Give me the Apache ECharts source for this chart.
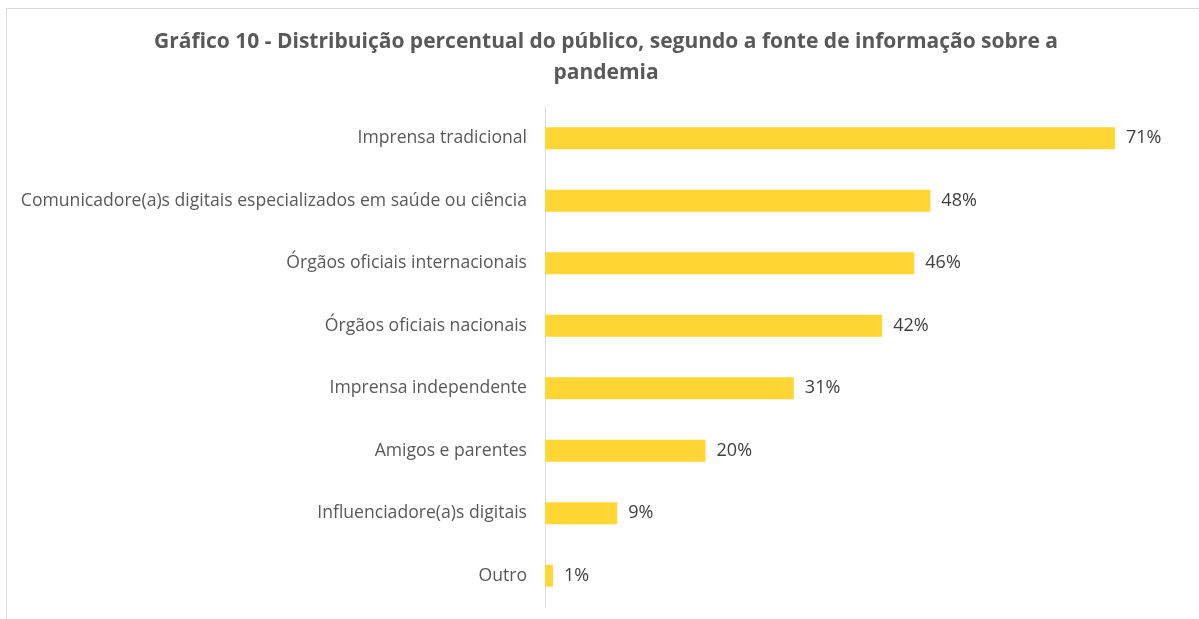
<!DOCTYPE html>
<html>
<head>
<meta charset="utf-8">
<script src="https://cdn.jsdelivr.net/npm/echarts@6/dist/echarts.min.js"></script>
<style>
	html, body { margin: 0; padding: 0; background: #fff; }
	#chart { width: 1199px; height: 619px; }
</style>
</head>
<body>
<div id="chart"></div>
<script>
	"use strict";

	var categories = [
		'Imprensa tradicional',
		'Comunicadore(a)s digitais especializados em saúde ou ciência',
		'Órgãos oficiais internacionais',
		'Órgãos oficiais nacionais',
		'Imprensa independente',
		'Amigos e parentes',
		'Influenciadore(a)s digitais',
		'Outro'
	];
	var values = [71, 48, 46, 42, 31, 20, 9, 1];

	var chart = echarts.init(document.getElementById('chart'));

	var option = {
		animation: false,
		title: {
			text: 'Gráfico 10 - Distribuição percentual do público, segundo a fonte de informação sobre a\npandemia',
			left: 601,
			top: 22,
			textAlign: 'center',
			textStyle: {
				fontFamily: 'Open Sans',
				fontSize: 21,
				fontWeight: 'bold',
				color: '#595959',
				lineHeight: 31
			}
		},
		graphic: [{
			type: 'rect',
			shape: { x: 6.5, y: 8.5, width: 1200, height: 700 },
			style: { fill: 'none', stroke: '#d9d9d9', lineWidth: 1 },
			silent: true
		}],
		grid: {
			left: 545,
			right: 84,
			top: 107,
			bottom: 12
		},
		xAxis: {
			type: 'value',
			min: 0,
			max: 71,
			show: false
		},
		yAxis: {
			type: 'category',
			data: categories,
			inverse: true,
			axisLine: { show: true, lineStyle: { color: '#d9d9d9', width: 1 } },
			axisTick: { show: false },
			axisLabel: {
				margin: 18,
				fontFamily: 'Open Sans',
				fontSize: 17.6,
				color: '#595959'
			}
		},
		series: [{
			type: 'bar',
			data: values,
			barWidth: '35%',
			itemStyle: { color: '#ffd633' },
			label: {
				show: true,
				position: 'right',
				distance: 11,
				formatter: '{c}%',
				fontFamily: 'Open Sans',
				fontSize: 18,
				color: '#404040'
			}
		}]
	};

	chart.setOption(option);
</script>
</body>
</html>
